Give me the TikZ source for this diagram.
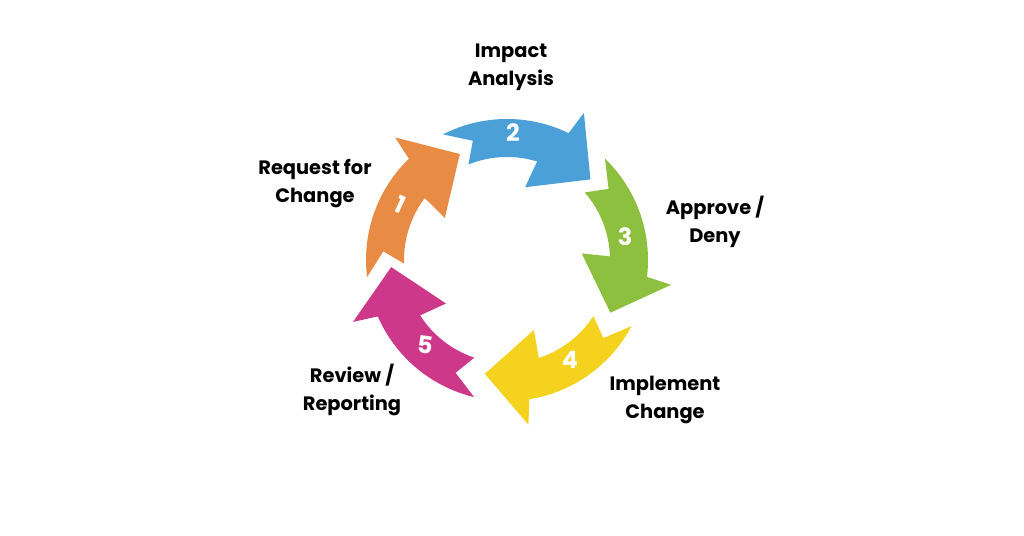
\documentclass[tikz,border=0pt]{standalone}
\usepackage{fontspec}
\setmainfont{Poppins}
\usepackage{tikz}
\usetikzlibrary{calc}
\usepackage{xcolor}

\definecolor{stepone}{RGB}{231,139,69}
\definecolor{steptwo}{RGB}{75,160,216}
\definecolor{stepthree}{RGB}{142,192,64}
\definecolor{stepfour}{RGB}{245,210,30}
\definecolor{stepfive}{RGB}{206,56,139}

% one curved arrow of the cycle, turned by #1
\newcommand{\cyclearrow}[2]{%
  \fill[#2, rotate=#1] (46:141) -- (35:124) -- (41:103)
    arc[start angle=41, end angle=2, radius=103] -- (5:75) -- (-27:116)
    -- (-8.6:166) -- (-6.9:141) arc[start angle=-6.9, end angle=46, radius=141] -- cycle;}

\begin{document}
\begin{tikzpicture}[x=0.025cm, y=0.025cm,
  lbl/.style={font=\bfseries\fontsize{13.8}{20}\selectfont, align=center, text=black},
  num/.style={font=\bfseries\fontsize{17}{17}\selectfont, text=white}]
  \useasboundingbox (0,0) rectangle (1024,536);

  % Arrows round the centre
  \begin{scope}[shift={(507,276)}]
    \cyclearrow{0}{stepthree}
    \cyclearrow{-74}{stepfour}
    \cyclearrow{-149.5}{stepfive}
    \cyclearrow{141}{stepone}
    \cyclearrow{71}{steptwo}
  \end{scope}

  % Step numbers
  \node[num, rotate=-25] (n1) at (400,331) {1};
  \node[num] (n2) at (513,403) {2};
  \node[num] (n3) at (625,299) {3};
  \node[num] (n4) at (570,176) {4};
  \node[num, rotate=-8] (n5) at (425,191) {5};

  % Step labels
  \node[lbl] (request) at (315,352) {Request for\\Change};
  \node[lbl] (impact) at (511,469) {Impact\\Analysis};
  \node[lbl] (approve) at (715,314) {Approve /\\Deny};
  \node[lbl] (implement) at (665,136) {Implement\\Change};
  \node[lbl] (review) at (352,146) {Review /\\Reporting};
\end{tikzpicture}
\end{document}
